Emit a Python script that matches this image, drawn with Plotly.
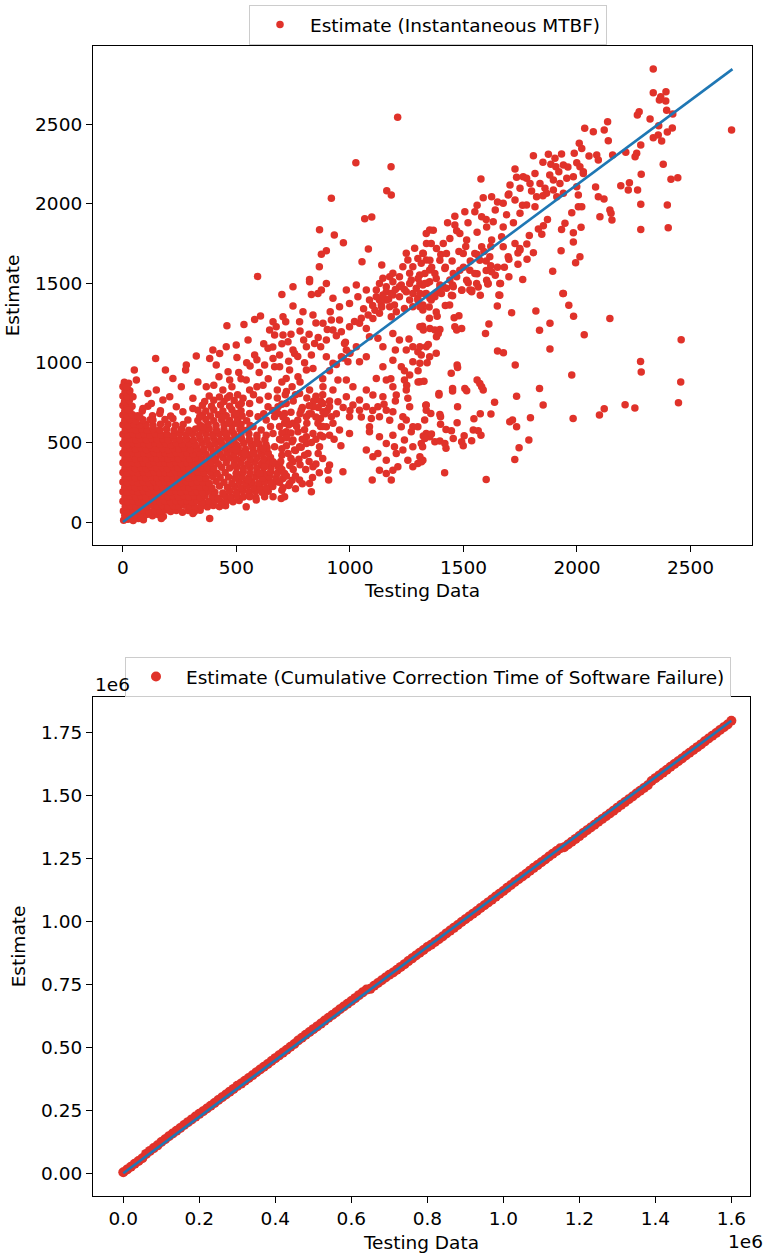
import plotly.graph_objects as go

RED = "#e0322a"
BLUE = "#1f77b4"
FONT = "DejaVu Sans"
FS = 18.5
W, H = 766, 1257

# ---------------- Instantaneous MTBF: (testing data, estimate) ----------------
# dense cluster near the origin
mtbf_core = [
    (3, 12), (22, 18), (45, 10), (68, 22), (90, 15),
    (8, 42), (30, 36), (55, 45), (80, 38), (105, 48), (130, 40), (155, 47), (178, 35),
    (2, 70), (20, 66), (44, 74), (66, 68), (92, 75), (115, 65), (140, 72), (162, 68), (188, 76),
    (210, 66), (235, 73), (262, 62), (288, 72), (315, 66), (340, 74),
    (10, 98), (33, 104), (57, 96), (80, 102), (104, 97), (127, 106), (150, 99), (173, 104), (198, 95),
    (222, 103), (246, 98), (270, 105), (295, 96), (318, 92), (345, 100), (372, 96), (398, 104),
    (425, 97), (452, 103),
    (0, 130), (21, 127), (45, 134), (69, 128), (92, 133), (116, 126), (139, 135), (163, 128), (186, 133),
    (210, 126), (233, 132), (257, 128), (281, 134), (305, 126), (328, 133), (352, 124), (378, 131),
    (405, 136), (432, 126), (458, 134), (485, 128), (512, 135),
    (9, 158), (32, 163), (56, 157), (80, 164), (103, 156), (127, 163), (150, 158), (174, 165), (198, 157),
    (221, 162), (245, 156), (268, 164), (292, 158), (316, 162), (340, 155), (362, 166), (395, 160), (420, 150),
    (448, 165), (476, 157), (503, 164), (530, 158), (558, 163), (585, 156),
    (0, 191), (20, 187), (44, 194), (68, 188), (91, 193), (115, 186), (139, 194), (162, 189), (186, 195),
    (209, 187), (233, 193), (256, 188), (280, 195), (304, 187), (327, 192), (351, 186), (378, 194), (405, 188),
    (440, 183), (470, 194), (500, 186), (528, 195), (556, 188), (584, 193), (612, 187), (640, 194),
    (8, 218), (32, 224), (55, 217), (79, 223), (103, 216), (126, 224), (150, 218), (174, 222), (197, 215),
    (221, 224), (244, 219), (268, 222), (292, 216), (315, 225), (340, 218), (365, 222), (392, 214), (425, 226),
    (460, 218), (492, 224), (520, 216), (548, 225), (576, 217), (604, 223), (632, 216), (660, 224),
    (0, 252), (19, 248), (43, 254), (67, 247), (90, 253), (114, 246), (138, 255), (161, 249), (185, 252),
    (209, 246), (232, 255), (256, 248), (280, 253), (303, 247), (328, 255), (352, 250), (380, 244), (410, 256),
    (445, 250), (480, 245), (512, 255), (540, 247), (568, 254), (598, 246), (625, 255), (652, 248), (680, 253),
    (9, 278), (31, 284), (55, 277), (79, 283), (102, 276), (126, 285), (150, 279), (173, 282), (197, 276),
    (220, 285), (244, 278), (268, 283), (291, 276), (316, 284), (340, 279), (366, 275), (395, 286), (428, 280),
    (465, 283), (495, 277), (525, 285), (555, 278), (585, 284), (615, 276), (645, 285), (675, 279),
    (0, 312), (20, 307), (43, 314), (67, 308), (91, 313), (114, 306), (138, 315), (162, 309), (185, 312),
    (209, 306), (232, 315), (256, 308), (280, 313), (305, 307), (330, 316), (356, 309), (385, 313), (415, 305),
    (450, 312), (500, 306), (530, 314), (560, 308), (590, 315), (620, 307), (650, 313), (680, 306),
    (9, 338), (32, 344), (55, 337), (79, 343), (103, 336), (126, 345), (150, 339), (173, 342), (197, 336),
    (221, 345), (244, 338), (268, 343), (292, 336), (318, 344), (345, 338), (372, 343), (400, 336), (435, 345),
    (470, 339), (500, 344), (530, 337), (560, 345), (590, 338), (620, 344), (652, 337), (685, 345),
    (0, 372), (20, 367), (44, 374), (67, 368), (91, 373), (115, 366), (138, 375), (162, 369), (186, 372),
    (209, 366), (233, 375), (257, 368), (281, 373), (306, 367), (332, 375), (360, 369), (390, 372), (420, 366),
    (455, 374), (490, 368), (520, 373), (550, 367), (580, 375), (610, 368), (640, 374), (670, 366),
    (9, 398), (32, 404), (56, 397), (79, 403), (103, 396), (127, 405), (150, 399), (174, 402), (198, 396),
    (221, 405), (245, 398), (269, 403), (294, 396), (320, 404), (348, 398), (378, 404), (408, 397), (440, 405),
    (470, 403), (500, 396), (530, 405), (560, 398), (590, 404), (620, 397), (650, 405),
    (0, 432), (21, 427), (44, 434), (68, 428), (92, 433), (115, 426), (139, 435), (163, 429), (187, 432),
    (210, 426), (234, 435), (258, 428), (283, 433), (310, 427), (338, 435), (366, 428), (398, 433),
    (428, 427), (458, 435), (488, 428), (518, 434), (548, 426), (578, 435), (610, 429), (640, 433),
    (9, 458), (32, 464), (56, 457), (80, 463), (104, 456), (127, 465), (151, 459), (175, 462), (199, 456),
    (222, 465), (246, 458), (272, 463), (298, 456), (326, 464), (356, 458), (388, 464),
    (418, 456), (448, 464), (478, 458), (508, 465), (540, 457), (572, 463), (605, 456), (635, 466),
    (0, 492), (21, 487), (45, 494), (68, 488), (92, 493), (116, 486), (140, 495), (164, 489), (188, 492),
    (212, 486), (236, 495), (262, 488), (290, 493), (318, 487), (348, 495),
    (378, 487), (408, 494), (438, 488), (470, 493), (500, 486), (532, 495), (565, 489), (598, 492), (630, 486),
    (9, 518), (33, 524), (57, 517), (80, 523), (104, 516), (128, 525), (152, 519), (176, 522), (200, 516),
    (226, 525), (252, 518), (280, 523), (310, 516),
    (340, 524), (370, 517), (400, 523), (430, 516), (460, 525), (490, 518), (522, 523), (555, 516), (590, 524),
    (625, 517),
    (0, 552), (22, 547), (46, 554), (70, 548), (94, 553), (118, 546), (143, 555), (168, 549), (194, 552),
    (222, 545), (250, 556), (278, 548),
    (306, 554), (335, 547), (365, 555), (395, 548), (425, 553), (455, 546), (488, 554), (520, 549), (555, 553),
    (590, 546),
    (10, 578), (34, 584), (58, 577), (83, 583), (108, 576), (134, 585), (162, 578), (192, 584), (225, 576),
    (258, 583), (290, 577), (320, 584), (350, 578), (380, 585), (412, 577), (445, 583), (480, 577), (515, 584),
    (550, 578),
    (0, 612), (24, 607), (48, 614), (74, 608), (102, 613), (132, 606), (165, 615),
    (198, 614), (232, 608), (265, 613), (340, 608), (375, 614), (410, 606), (445, 613), (480, 607), (520, 614),
    (560, 606),
    (8, 638), (32, 644), (58, 637), (88, 643),
    (120, 643), (185, 644), (330, 638), (365, 644), (400, 637), (435, 643), (470, 638), (505, 644), (545, 637),
    (0, 672), (20, 667), (42, 674), (65, 668), (130, 667), (210, 666), (350, 672), (385, 666), (420, 674),
    (455, 667), (490, 673), (525, 666),
    (8, 698), (30, 704), (85, 697), (165, 699), (330, 703), (365, 697), (400, 704), (440, 698), (480, 705),
    (520, 699),
    (0, 732), (18, 727), (40, 727), (110, 728), (350, 734), (390, 727), (430, 735), (470, 728), (510, 734),
    (7, 758), (28, 764), (360, 758), (400, 765), (445, 757), (490, 764),
    (0, 792), (20, 787), (380, 792), (425, 786), (470, 793),
    (9, 818), (30, 824), (0, 852), (18, 848), (6, 878), (25, 872),
]

# sparse points above the dense cluster
mtbf_core_upper = [
    (15, 850), (59, 892), (110, 808), (147, 829), (176, 766), (206, 787), (125, 745), (88, 714),
    (162, 682), (235, 724), (264, 693), (220, 651), (44, 787), (74, 661), (22, 703), (132, 641),
    (286, 641), (308, 714), (338, 661), (352, 599), (50, 955), (144, 1028), (187, 955), (220, 902),
    (257, 850), (279, 986), (276, 955), (323, 1043), (367, 850),
]

# middle of the cloud, on and above the trend
mtbf_mid_upper = [
    (396, 1080), (382, 1028), (426, 1059), (455, 1101), (499, 1112), (411, 986), (423, 913), (470, 892),
    (463, 944), (502, 1034), (458, 1233), (533, 1241), (580, 1273), (606, 1294), (551, 1143), (580, 1049),
    (308, 777), (460, 781), (529, 777), (543, 892), (558, 829), (590, 850), (617, 860), (624, 986),
    (639, 1091), (661, 1028), (668, 975), (646, 1206), (675, 1227), (668, 1175), (705, 1175), (717, 1258),
    (727, 1133), (700, 1430), (749, 1357), (793, 1321), (837, 1300), (859, 1436), (830, 1430), (874, 1457),
    (749, 1080), (756, 1059), (796, 1143), (808, 1101), (844, 1122), (871, 1101), (896, 1143), (690, 976),
    (734, 955), (719, 902), (771, 913), (808, 955), (837, 965), (913, 1321), (918, 1269), (954, 1352),
    (998, 1373), (1035, 1415), (896, 1038), (925, 997), (947, 892), (984, 892), (1013, 850), (925, 829),
    (881, 850), (822, 829), (778, 808), (719, 745), (683, 682), (984, 1457), (1028, 1489), (1072, 1457),
    (1086, 1394), (925, 1405), (896, 1499), (822, 1510), (749, 1478), (661, 1258), (705, 1290), (778, 1258),
    (881, 1248), (925, 1206), (954, 1269),
    (505, 800), (575, 800), (640, 790), (680, 830), (715, 800), (745, 850), (780, 880), (810, 780),
    (850, 790), (880, 900), (910, 950), (940, 990), (970, 1030), (1000, 1060), (640, 900), (600, 940),
    (560, 980), (520, 900), (690, 1050), (730, 1010), (770, 1040), (800, 1000), (830, 1050), (860, 1160),
    (900, 1210), (940, 1170), (980, 1130), (700, 880), (750, 760), (790, 720), (830, 680), (870, 650),
    (900, 700), (940, 680), (970, 720), (1000, 700), (740, 690), (700, 740), (660, 700), (620, 680),
    (860, 720), (840, 760), (880, 800), (910, 760), (680, 780), (720, 820), (760, 800),
    (330, 880), (400, 860), (440, 830), (480, 850), (510, 940), (545, 1000), (590, 1020), (620, 1120),
    (660, 1100), (700, 1120), (740, 1180), (780, 1200), (820, 1180), (850, 1250),
]

# middle of the cloud, below the trend
mtbf_mid_lower = [
    (837, 724), (881, 693), (918, 661), (896, 599), (925, 620), (859, 620), (808, 661), (785, 703),
    (749, 620), (771, 567), (808, 536), (837, 557), (881, 536), (910, 546), (778, 473), (815, 431),
    (756, 452), (727, 431), (749, 379), (690, 358), (705, 274), (734, 243), (778, 264), (822, 243),
    (837, 347), (910, 358), (903, 326), (906, 264), (969, 316), (830, 190), (661, 159), (624, 159),
    (697, 148), (712, 159), (543, 96), (587, 138), (558, 159), (382, 23), (169, 23), (308, 54),
    (551, 264), (499, 306), (602, 306), (624, 347), (661, 379), (617, 462), (668, 473), (697, 515),
    (719, 567), (712, 620), (631, 641), (668, 661), (639, 724), (683, 724), (712, 682), (558, 682),
    (595, 661), (573, 599), (609, 578), (631, 546), (499, 620), (529, 578), (514, 536), (558, 515),
    (587, 494), (536, 431), (573, 431), (499, 452), (470, 494), (455, 557), (463, 620), (441, 661),
    (499, 682), (521, 745), (558, 745), (602, 766), (661, 557), (749, 515), (808, 494), (866, 473),
    (954, 578), (998, 557),
    (700, 200), (730, 230), (760, 210), (690, 250), (720, 290), (750, 330), (700, 330), (780, 360),
    (740, 400), (700, 420), (760, 450), (800, 420), (720, 480), (690, 520), (740, 560), (800, 580),
    (850, 520), (870, 600), (690, 600), (720, 640), (770, 640), (820, 680), (650, 600), (700, 560),
    (790, 520), (880, 600), (930, 520), (960, 480),
    (705, 215), (745, 262), (790, 240), (835, 280), (865, 310), (712, 305), (760, 290), (805, 330),
    (850, 365), (880, 400), (695, 380), (735, 355), (775, 395), (820, 380), (860, 430), (700, 460),
    (745, 505), (785, 470), (830, 500), (870, 545), (720, 530), (765, 600), (810, 620), (850, 660),
    (890, 680), (730, 610), (780, 680), (820, 730), (870, 760), (705, 660),
]

# band between 1000 and 1400
mtbf_band = [
    (962, 1195), (998, 1227), (1042, 1248), (1072, 1216), (1101, 1279), (1130, 1311), (1138, 1363),
    (1160, 1394), (1189, 1426), (1218, 1478), (1248, 1447), (1277, 1436), (1299, 1394), (1321, 1332),
    (1116, 1457), (1130, 1394), (1160, 1447), (1175, 1352), (1204, 1321), (1182, 1290), (976, 1122),
    (984, 1080), (1028, 1101), (1072, 1038), (1042, 1007), (991, 1007), (962, 1038), (1086, 1164),
    (1123, 1154), (1145, 1101), (1189, 1185), (1218, 1143), (1248, 1080), (1277, 1101), (1299, 1070),
    (1336, 1101), (1145, 976), (1189, 1017), (1226, 976), (1277, 1007), (1314, 1049), (1351, 1038),
    (1116, 902), (1160, 892), (1189, 850), (1240, 892), (1263, 923), (1072, 829), (1101, 798),
    (1145, 787), (1204, 798), (1248, 829), (1042, 766), (1072, 724), (1013, 735), (984, 787),
    (947, 756), (910, 724), (881, 745), (1123, 724), (1160, 703), (1130, 661), (1175, 640),
    (1189, 693), (1233, 661), (1263, 724), (1255, 777), (998, 661), (1042, 703), (1094, 651),
    (1086, 599), (1226, 599), (1270, 567), (1299, 599), (1336, 735),
    (1130, 1499), (1160, 1478), (1189, 1510), (1226, 1489), (1263, 1499), (1292, 1468), (1321, 1489),
    (1351, 1510), (1336, 1436), (1299, 1405), (1263, 1394), (1218, 1415), (1182, 1436), (1145, 1426),
    (1116, 1415), (1358, 1394), (1321, 1363), (1277, 1352), (1240, 1342), (1196, 1363),
    (1248, 1688), (1285, 1719), (1321, 1688), (1336, 1646), (1314, 1625), (1277, 1604), (1233, 1604),
    (1189, 1562), (1218, 1541), (1263, 1562), (1307, 1551), (1351, 1583), (1358, 1750), (1351, 1834),
    (1336, 1813), (1299, 1656), (1255, 1646), (1175, 1541), (1145, 1531),
    (1210, 2542), (1026, 2257), (1181, 2232), (1162, 2081), (1182, 2054), (918, 2033), (1065, 1905),
    (1096, 1916), (866, 1836), (931, 1803), (971, 1755), (1081, 1715), (896, 1704), (874, 1682),
    (1053, 1635), (1140, 1614), (865, 1604), (593, 1543), (822, 1524),
    (1380, 1440), (1410, 1480), (1440, 1520), (1470, 1540), (1500, 1600), (1530, 1640), (1560, 1680),
    (1590, 1700), (1620, 1730), (1420, 1600), (1450, 1640), (1480, 1700), (1510, 1730), (1400, 1680),
    (1360, 1600), (1380, 1530), (1340, 1500), (1300, 1530), (1270, 1520), (1240, 1460), (1200, 1460),
    (1170, 1400), (1140, 1350), (1110, 1330), (1080, 1300), (1050, 1280), (1020, 1260), (1100, 1360),
    (1060, 1340), (1050, 660), (1100, 700), (1150, 740), (1200, 760), (1250, 860), (1300, 950),
    (1340, 1000), (1380, 1060), (1300, 880), (1240, 950), (1180, 900), (1200, 1080), (1260, 1150),
    (1320, 1230), (1350, 1280), (1380, 1320), (1420, 1360),
]

# group well below the trend around 1100-1350
mtbf_low_right = [
    (1072, 452), (1101, 410), (1130, 326), (1160, 305), (1182, 264), (1098, 264), (1189, 326),
    (1160, 389), (1204, 431), (1233, 452), (1277, 473), (1314, 494), (1321, 389), (1299, 368),
    (1255, 389), (1277, 347), (1211, 347), (1196, 473), (1240, 515), (1086, 567), (1130, 536),
    (1189, 546), (1160, 494), (1123, 431), (1248, 641), (1277, 599), (1329, 641), (1336, 703),
    (1336, 557), (1351, 536),
]

# right half, below the trend
mtbf_right_lower = [
    (1938, 1436), (1964, 1361), (1985, 1292), (2145, 1279), (2032, 1177), (2459, 1145), (1819, 1325),
    (1881, 1248), (1835, 1204), (1881, 1087), (1712, 1315), (1649, 1357), (1656, 1426), (1663, 1499),
    (1607, 1495), (1574, 1424), (1536, 1447), (1528, 1457), (1493, 1457), (1558, 1499), (1521, 1503),
    (1452, 1422), (1439, 1363), (1349, 1350), (1384, 1292), (1459, 1283), (1480, 1296), (1462, 1227),
    (1612, 1244), (1597, 1185), (1650, 1074), (1676, 1064), (1728, 986), (2280, 1009), (2283, 942),
    (2457, 879), (2447, 749), (1977, 923), (1835, 839), (1851, 735), (1734, 791), (1637, 752),
    (1621, 678), (1574, 680), (1546, 649), (1560, 892), (1572, 871), (1587, 829), (1580, 850),
    (1506, 839), (1514, 825), (1472, 986), (1474, 971), (1446, 934), (1452, 839), (1452, 823),
    (1474, 724), (1472, 624), (1392, 808), (1392, 798), (1334, 733), (1356, 682), (1396, 676),
    (1399, 661), (1399, 615), (1423, 582), (1447, 573), (1323, 540), (1345, 546), (1359, 553),
    (1330, 525), (1374, 504), (1396, 509), (1418, 494), (1423, 463), (1455, 525), (1492, 504),
    (1503, 542), (1499, 479), (1543, 578), (1565, 573), (1577, 546), (1536, 511), (1704, 630),
    (1716, 641), (1734, 599), (1795, 655), (1788, 515), (1745, 467), (1726, 393), (1983, 651),
    (2099, 672), (2120, 712), (2212, 737), (2255, 716), (1417, 310), (1600, 268), (1320, 473),
    (1315, 379), (1308, 410), (1308, 881), (1326, 885), (1308, 997), (1308, 1101), (1345, 1116),
    (1308, 1227), (1323, 1206), (1352, 1216), (1374, 1206), (1396, 1210), (1389, 1185), (1381, 1164),
    (1308, 1352), (1308, 1436), (1330, 1432), (1308, 1499), (1330, 1499), (1352, 1405), (1374, 1415),
    (1403, 1436), (1425, 1468), (1452, 1489), (1396, 1489), (1470, 1206), (1492, 1216),
    (1560, 1560), (1600, 1580), (1640, 1550), (1680, 1600), (1700, 1540), (1740, 1620), (1780, 1650),
    (1620, 1610),
]

# right half, on and above the trend
mtbf_right_upper = [
    (2336, 2845), (2336, 2697), (2392, 2703), (2363, 2651), (2391, 2644), (2369, 2672), (2395, 2586),
    (2422, 2563), (2266, 2557), (2274, 2577), (2322, 2531), (2681, 2462), (2360, 2489), (2420, 2475),
    (2398, 2450), (2336, 2414), (2358, 2431), (2373, 2393), (2135, 2515), (2120, 2462), (2072, 2452),
    (2034, 2473), (2138, 2395), (2281, 2368), (2263, 2316), (2256, 2295), (2215, 2322), (2157, 2305),
    (2380, 2247), (2283, 2184), (2414, 2153), (2444, 2163), (2193, 2113), (2231, 2131), (2226, 2085),
    (2267, 2085), (2281, 1996), (2398, 1991), (2281, 1838), (2402, 1849), (2082, 2104), (2094, 2043),
    (2119, 2029), (2145, 1960), (2150, 1939), (2101, 1918), (2154, 1897), (1874, 2310), (1808, 2301),
    (1932, 2312), (1903, 2285), (1988, 2316), (2010, 2379), (2021, 2347), (2053, 2299), (2087, 2305),
    (2094, 2274), (1727, 2217), (1815, 2190), (1763, 2169), (1778, 2159), (1734, 2165), (1885, 2247),
    (1907, 2232), (1940, 2242), (1999, 2257), (2013, 2232), (2028, 2200), (1577, 2155), (1705, 2117),
    (1697, 2054), (1749, 2096), (1793, 2127), (1837, 2127), (1859, 2096), (1896, 2148), (1925, 2127),
    (1955, 2159), (1984, 2169), (2028, 2190), (1587, 2037), (1624, 2043), (1675, 2002), (1727, 2023),
    (1749, 1939), (1778, 1991), (1822, 2043), (1815, 1981), (1866, 2065), (1896, 2085), (1911, 2043),
    (1940, 2065), (1999, 2106), (2006, 2054), (2006, 1981), (2021, 1981), (1977, 1943), (1947, 1876),
    (1932, 1838), (1984, 1817), (2018, 1851), (1984, 1759), (1930, 1704), (2013, 1666), (1994, 1629),
    (1893, 1576), (1940, 1436), (1761, 1524), (1852, 1861), (1845, 1807), (1779, 1746), (1808, 1692),
    (1727, 1750), (1749, 1708),
    (1462, 1921), (1506, 1949), (1550, 1949), (1580, 1917), (1602, 1854), (1631, 1886), (1675, 1854),
    (1668, 1792), (1624, 1771), (1580, 1729), (1550, 1687), (1499, 1687), (1462, 1865), (1440, 1781),
    (1411, 1750), (1381, 1718), (1367, 1833), (1337, 1750), (1323, 1687), (1352, 1645), (1396, 1645),
    (1418, 1593), (1374, 1561), (1330, 1561), (1455, 1561), (1484, 1582), (1514, 1519), (1550, 1561),
    (1602, 1519), (1660, 1498), (1697, 1666), (1748, 1718), (1675, 1729), (1616, 1666), (1572, 1645),
    (1528, 1582), (1492, 1456), (1447, 1425), (1396, 1467), (1359, 1415), (1565, 1477), (1609, 1498),
    (1660, 1425), (1624, 1572), (1536, 1456), (1455, 1478), (1514, 1771), (1484, 1812), (1425, 1687),
    (1430, 1880), (1470, 1830), (1520, 1880), (1560, 1820), (1600, 1900), (1640, 1960), (1690, 1930),
    (1720, 1880), (1760, 1990), (1800, 2080), (1850, 2050), (1880, 2180), (1920, 2200), (1960, 2230),
    (1700, 2060), (1650, 2010), (1560, 1990), (1850, 2260), (1790, 1800), (1830, 1840), (1870, 1900),
    (1700, 1650), (1740, 1690), (1650, 1600), (1600, 1640),
]

mtbf_fit_x = [0, 2685]
mtbf_fit_y = [0, 2845]

# ---------- Cumulative correction time of software failure (units of 1e6) ----------
cct_x = [
    0.00, 0.01, 0.02, 0.03, 0.04, 0.05, 0.06, 0.07, 0.08, 0.09, 0.10, 0.11, 0.12, 0.13, 0.14, 0.15,
    0.16, 0.17, 0.18, 0.19, 0.20, 0.21, 0.22, 0.23, 0.24, 0.25, 0.26, 0.27, 0.28, 0.29, 0.30, 0.31,
    0.32, 0.33, 0.34, 0.35, 0.36, 0.37, 0.38, 0.39, 0.40, 0.41, 0.42, 0.43, 0.44, 0.45, 0.46, 0.47,
    0.48, 0.49, 0.50, 0.51, 0.52, 0.53, 0.54, 0.55, 0.56, 0.57, 0.58, 0.59, 0.60, 0.61, 0.62, 0.63,
    0.64, 0.65, 0.66, 0.67, 0.68, 0.69, 0.70, 0.71, 0.72, 0.73, 0.74, 0.75, 0.76, 0.77, 0.78, 0.79,
    0.80, 0.81, 0.82, 0.83, 0.84, 0.85, 0.86, 0.87, 0.88, 0.89, 0.90, 0.91, 0.92, 0.93, 0.94, 0.95,
    0.96, 0.97, 0.98, 0.99, 1.00, 1.01, 1.02, 1.03, 1.04, 1.05, 1.06, 1.07, 1.08, 1.09, 1.10, 1.11,
    1.12, 1.13, 1.14, 1.15, 1.16, 1.17, 1.18, 1.19, 1.20, 1.21, 1.22, 1.23, 1.24, 1.25, 1.26, 1.27,
    1.28, 1.29, 1.30, 1.31, 1.32, 1.33, 1.34, 1.35, 1.36, 1.37, 1.38, 1.39, 1.40, 1.41, 1.42, 1.43,
    1.44, 1.45, 1.46, 1.47, 1.48, 1.49, 1.50, 1.51, 1.52, 1.53, 1.54, 1.55, 1.56, 1.57, 1.58, 1.59,
    1.60,
]
cct_y = [
    0.004, 0.015, 0.026, 0.038, 0.049, 0.060, 0.077, 0.089, 0.100, 0.111, 0.124, 0.135, 0.147, 0.158,
    0.169, 0.180, 0.192, 0.203, 0.214, 0.225, 0.236, 0.246, 0.257, 0.268, 0.279, 0.291, 0.302, 0.313,
    0.324, 0.335, 0.347, 0.356, 0.367, 0.378, 0.389, 0.401, 0.412, 0.423, 0.434, 0.446, 0.457, 0.468,
    0.479, 0.490, 0.502, 0.513, 0.527, 0.538, 0.550, 0.561, 0.572, 0.583, 0.594, 0.606, 0.617, 0.628,
    0.639, 0.651, 0.662, 0.673, 0.684, 0.695, 0.707, 0.718, 0.729, 0.732, 0.744, 0.755, 0.766, 0.777,
    0.788, 0.797, 0.808, 0.819, 0.830, 0.842, 0.853, 0.864, 0.875, 0.886, 0.898, 0.907, 0.918, 0.929,
    0.940, 0.952, 0.963, 0.974, 0.985, 0.997, 1.008, 1.019, 1.030, 1.041, 1.053, 1.064, 1.075, 1.086,
    1.098, 1.109, 1.120, 1.133, 1.144, 1.156, 1.167, 1.178, 1.189, 1.201, 1.212, 1.223, 1.234, 1.245,
    1.257, 1.268, 1.279, 1.290, 1.294, 1.305, 1.316, 1.327, 1.338, 1.350, 1.361, 1.372, 1.383, 1.395,
    1.406, 1.417, 1.428, 1.439, 1.451, 1.462, 1.473, 1.484, 1.495, 1.507, 1.518, 1.529, 1.540, 1.557,
    1.568, 1.579, 1.590, 1.601, 1.613, 1.624, 1.635, 1.646, 1.658, 1.669, 1.680, 1.691, 1.702, 1.714,
    1.725, 1.736, 1.747, 1.759, 1.770, 1.781, 1.796,
]
cct_fit_x = [0.0, 1.60]
cct_fit_y = [0.0, 1.796]

mtbf_ticks = [0, 500, 1000, 1500, 2000, 2500]
cct_xticks = [0.0, 0.2, 0.4, 0.6, 0.8, 1.0, 1.2, 1.4, 1.6]
cct_yticks = [0.00, 0.25, 0.50, 0.75, 1.00, 1.25, 1.50, 1.75]

groups = [mtbf_core, mtbf_core_upper, mtbf_mid_upper, mtbf_mid_lower,
          mtbf_band, mtbf_low_right, mtbf_right_lower, mtbf_right_upper]
mtbf_x = [p[0] for g in groups for p in g]
mtbf_y = [p[1] for g in groups for p in g]

fig = go.Figure()

fig.add_trace(go.Scatter(
    x=mtbf_x, y=mtbf_y, mode="markers", name="Estimate (Instantaneous MTBF)",
    marker=dict(color=RED, size=7.5, line=dict(width=0)),
    xaxis="x", yaxis="y", legend="legend", showlegend=True))
fig.add_trace(go.Scatter(
    x=mtbf_fit_x, y=mtbf_fit_y, mode="lines", line=dict(color=BLUE, width=2.6),
    xaxis="x", yaxis="y", showlegend=False))

fig.add_trace(go.Scatter(
    x=cct_x, y=cct_y, mode="markers",
    name="Estimate (Cumulative Correction Time of Software Failure)",
    marker=dict(color=RED, size=10, line=dict(width=0)),
    xaxis="x2", yaxis="y2", legend="legend2", showlegend=True))
fig.add_trace(go.Scatter(
    x=cct_fit_x, y=cct_fit_y, mode="lines", line=dict(color=BLUE, width=2.6),
    xaxis="x2", yaxis="y2", showlegend=False))

axis_common = dict(
    showline=True, linecolor="black", linewidth=1.2, mirror=True,
    ticks="outside", ticklen=6, tickwidth=1.2, tickcolor="black",
    showgrid=False, zeroline=False,
    tickfont=dict(family=FONT, size=FS, color="black"),
)
title_font = dict(family=FONT, size=FS, color="black")
legend_common = dict(
    xanchor="center", yanchor="top",
    bordercolor="#cccccc", borderwidth=1, bgcolor="rgba(255,255,255,0.8)",
    font=dict(family=FONT, size=FS), itemsizing="trace", itemwidth=50,
)

fig.update_layout(
    width=W, height=H,
    margin=dict(l=0, r=0, t=0, b=0),
    paper_bgcolor="white", plot_bgcolor="white",
    font=dict(family=FONT, size=FS, color="black"),
    xaxis=dict(domain=[93 / W, 752 / W], anchor="y", range=[-132, 2771],
               tickvals=mtbf_ticks,
               title=dict(text="Testing Data", standoff=6, font=title_font), **axis_common),
    yaxis=dict(domain=[1 - 545 / H, 1 - 46 / H], anchor="x", range=[-144, 2990],
               tickvals=mtbf_ticks,
               title=dict(text="Estimate", standoff=10, font=title_font), **axis_common),
    xaxis2=dict(domain=[93 / W, 750 / W], anchor="y2", range=[-0.0797, 1.649],
                tickvals=cct_xticks, tickformat=".1f",
                title=dict(text="Testing Data", standoff=7, font=title_font), **axis_common),
    yaxis2=dict(domain=[1 - 1196 / H, 1 - 697 / H], anchor="x2", range=[-0.090, 1.890],
                tickvals=cct_yticks, tickformat=".2f",
                title=dict(text="Estimate", standoff=10, font=title_font), **axis_common),
    legend=dict(x=428 / W, y=1 - 5 / H, **legend_common),
    legend2=dict(x=428 / W, y=1 - 657 / H, **legend_common),
    annotations=[
        dict(text="1e6", xref="paper", yref="paper", x=93 / W, y=1 - 684 / H,
             xanchor="left", yanchor="middle", showarrow=False,
             font=dict(family=FONT, size=FS, color="black")),
        dict(text="1e6", xref="paper", yref="paper", x=765 / W, y=1 - 1241 / H,
             xanchor="right", yanchor="middle", showarrow=False,
             font=dict(family=FONT, size=FS, color="black")),
    ],
)

fig.write_html("out.html")
